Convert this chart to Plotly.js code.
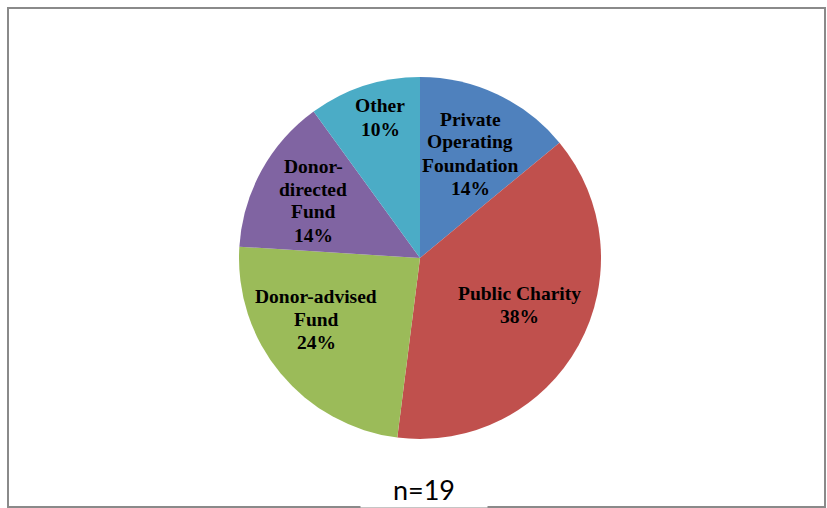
<!DOCTYPE html>
<html><head><meta charset="utf-8">
<script src="https://cdn.plot.ly/plotly-3.0.1.min.js"></script>
<style>html,body{margin:0;padding:0;background:#fff}#chart{width:827px;height:508px}</style>
</head><body><div id="chart"></div>
<script>
const categories = ["Private Operating Foundation","Public Charity","Donor-advised Fund","Donor-directed Fund","Other"];
const displayLabels = ["Private<br>Operating<br>Foundation","Public Charity","Donor-advised<br>Fund","Donor-<br>directed<br>Fund","Other"];
const percents = [14, 38, 24, 14, 10];
const colors = ["#4F81BD","#C0504D","#9BBB59","#8064A2","#4BACC6"];
const note = "n=19";

const W = 827, H = 508;
const cx = 420, cy = 258, r = 181;
// label block centres (px) for each slice, layout only
const labelPos = [[470,153.5],[519,305],[316,319],[313,200.5],[380,117.5]];
const lineGap = 23;

const annotations = [];
categories.forEach((c, i) => {
  const lines = displayLabels[i].split('<br>').concat([percents[i] + '%']);
  const [lx, ly] = labelPos[i];
  lines.forEach((t, j) => {
    const y = ly + (j - (lines.length - 1) / 2) * lineGap;
    annotations.push({
      text: '<b>' + t + '</b>', xref: 'paper', yref: 'paper', x: lx / W, y: 1 - y / H,
      xanchor: 'center', yanchor: 'middle', showarrow: false,
      font: {family: 'Liberation Serif', size: 19.5, color: '#000'}
    });
  });
});
annotations.push({
  text: note, xref: 'paper', yref: 'paper', x: 424 / W, y: 0, xanchor: 'center', yanchor: 'bottom',
  showarrow: false, bgcolor: '#fff', borderpad: 0,
  font: {family: 'Lato', size: 27, color: '#000'},
  width: 126, height: 35, align: 'center'
});

Plotly.newPlot('chart', [{
  type: 'pie',
  labels: categories,
  values: percents,
  textinfo: 'none',
  sort: false,
  direction: 'clockwise',
  rotation: 0,
  marker: {colors: colors, line: {width: 0}},
  hoverinfo: 'none',
  domain: {x: [(cx - r) / W, (cx + r) / W], y: [(H - cy - r) / H, (H - cy + r) / H]}
}], {
  width: W, height: H,
  margin: {l: 0, r: 0, t: 0, b: 0},
  showlegend: false,
  paper_bgcolor: '#fff',
  shapes: [{
    type: 'rect', xref: 'paper', yref: 'paper',
    x0: 8 / W, x1: 825 / W, y0: 1 - 507 / H, y1: 1 - 8 / H,
    line: {color: '#8a8a8a', width: 2}, fillcolor: 'rgba(0,0,0,0)', layer: 'below'
  }],
  annotations: annotations
}, {staticPlot: true});
</script></body></html>
